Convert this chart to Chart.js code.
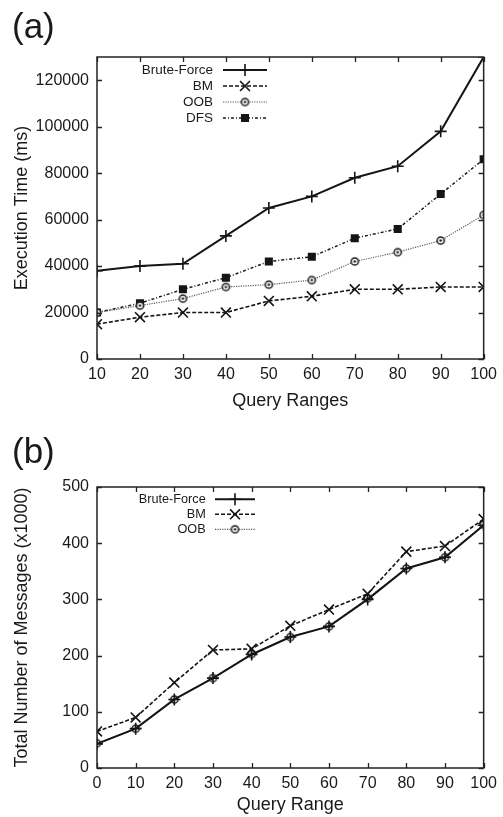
<!DOCTYPE html>
<html><head><meta charset="utf-8">
<script src="https://cdn.jsdelivr.net/npm/chart.js@4.4.1/dist/chart.umd.min.js"></script>
<style>
html,body{margin:0;padding:0;background:#fff;}
body{width:503px;height:817px;position:relative;overflow:hidden;font-family:"Liberation Sans",Arial,sans-serif;}
.panel{position:absolute;left:0;font-size:35px;line-height:1;color:#1a1a1a;font-family:"Liberation Sans",Arial,sans-serif;}
#wrapA{position:absolute;left:0;top:0;width:503px;height:420px;}
#wrapB{position:absolute;left:0;top:400px;width:503px;height:417px;}
</style></head><body>
<div id="wrapA"><canvas id="chartA"></canvas></div>
<div id="wrapB"><canvas id="chartB"></canvas></div>
<div class="panel" style="left:12px;top:8px">(a)</div>
<div class="panel" style="left:12px;top:433px">(b)</div>
<script>
// ---- Data: chart (a) ----
const rangesA = [10, 20, 30, 40, 50, 60, 70, 80, 90, 100];
const bruteA = [38000, 40000, 41000, 53000, 65000, 70000, 78000, 83000, 98000, 130000];
const bmA    = [15000, 18000, 20000, 20000, 25000, 27000, 30000, 30000, 31000, 31000];
const oobA   = [20000, 23000, 26000, 31000, 32000, 34000, 42000, 46000, 51000, 62000];
const dfsA   = [20000, 24000, 30000, 35000, 42000, 44000, 52000, 56000, 71000, 86000];
const xTicksA = [10, 20, 30, 40, 50, 60, 70, 80, 90, 100];
const yTicksA = [0, 20000, 40000, 60000, 80000, 100000, 120000];

// ---- Data: chart (b) ----
const rangesB = [0, 10, 20, 30, 40, 50, 60, 70, 80, 90, 100];
const bruteB = [43, 70, 122, 160, 202, 233, 252, 300, 355, 375, 432];
const bmB    = [65, 90, 152, 210, 212, 253, 282, 310, 385, 395, 443];
const oobB   = [44, 70, 122, 160, 203, 233, 252, 302, 355, 375, 433];
const xTicksB = [0, 10, 20, 30, 40, 50, 60, 70, 80, 90, 100];
const yTicksB = [0, 100, 200, 300, 400, 500];

const TXT = '#1a1a1a';
const FONT = '"Liberation Sans", Arial, sans-serif';

function ringMarker(r, color, lw){
  const s = Math.ceil(2*r + lw + 2);
  const c = document.createElement('canvas'); c.width = s; c.height = s;
  const g = c.getContext('2d');
  g.strokeStyle = color; g.lineWidth = lw; g.fillStyle = '#fff';
  g.beginPath(); g.arc(s/2, s/2, r, 0, 2*Math.PI); g.fill(); g.stroke();
  g.beginPath(); g.arc(s/2, s/2, r*0.35, 0, 2*Math.PI); g.fillStyle = color; g.fill();
  return c;
}

const framePlugin = {
  id: 'frame',
  afterDatasetsDraw(chart){
    const {ctx, chartArea: a, scales: {x, y}} = chart;
    ctx.save();
    ctx.strokeStyle = '#222'; ctx.lineWidth = 1.3; ctx.setLineDash([]);
    const L = 5;
    ctx.beginPath();
    x.ticks.forEach(t => {
      const px = Math.round(x.getPixelForValue(t.value)) + 0.5;
      ctx.moveTo(px, a.bottom); ctx.lineTo(px, a.bottom - L);
      ctx.moveTo(px, a.top); ctx.lineTo(px, a.top + L);
    });
    y.ticks.forEach(t => {
      const py = Math.round(y.getPixelForValue(t.value)) + 0.5;
      ctx.moveTo(a.left, py); ctx.lineTo(a.left + L, py);
      ctx.moveTo(a.right, py); ctx.lineTo(a.right - L, py);
    });
    ctx.stroke();
    ctx.lineWidth = 1.5;
    ctx.strokeRect(a.left, a.top, a.right - a.left, a.bottom - a.top);
    ctx.restore();
  }
};

const legendPlugin = {
  id: 'inlegend',
  afterDatasetsDraw(chart, args, o){
    const ctx = chart.ctx;
    chart.data.datasets.forEach((ds, i) => {
      const y = o.y0 + i * o.dy;
      ctx.save();
      ctx.font = o.font; ctx.fillStyle = TXT; ctx.textAlign = 'right'; ctx.textBaseline = 'middle';
      ctx.fillText(ds.label, o.textRight, y);
      ctx.strokeStyle = ds.borderColor; ctx.lineWidth = ds.borderWidth; ctx.setLineDash(ds.borderDash || []);
      ctx.beginPath(); ctx.moveTo(o.x1, y); ctx.lineTo(o.x2, y); ctx.stroke();
      ctx.setLineDash([]);
      ctx.strokeStyle = ds.pointBorderColor; ctx.fillStyle = ds.pointBackgroundColor; ctx.lineWidth = ds.pointBorderWidth;
      Chart.helpers.drawPoint(ctx, {pointStyle: ds.pointStyle, radius: ds.pointRadius, rotation: 0, borderWidth: ds.pointBorderWidth}, (o.x1 + o.x2) / 2, y);
      ctx.restore();
    });
  }
};

function pts(xs, ys){ return xs.map((v, i) => ({x: v, y: ys[i]})); }

function series(label, data, kind){
  const base = {label, data, fill: false, tension: 0, borderCapStyle: 'butt'};
  if (kind === 'brute') return Object.assign(base, {borderColor: '#151515', borderWidth: 2, borderDash: [],
    pointStyle: 'cross', pointRadius: 6, pointBorderWidth: 1.6, pointBorderColor: '#151515', pointBackgroundColor: '#151515'});
  if (kind === 'bm') return Object.assign(base, {borderColor: '#151515', borderWidth: 1.6, borderDash: [4, 2],
    pointStyle: 'crossRot', pointRadius: 7, pointBorderWidth: 1.6, pointBorderColor: '#151515', pointBackgroundColor: '#151515'});
  if (kind === 'oob') return Object.assign(base, {borderColor: '#5a5a5a', borderWidth: 1.2, borderDash: [1.2, 1.2],
    pointStyle: ringMarker(3.6, '#1a1a1a', 1.5), pointRadius: 4, pointBorderWidth: 1, pointBorderColor: '#1a1a1a', pointBackgroundColor: '#fff'});
  return Object.assign(base, {borderColor: '#1a1a1a', borderWidth: 1.5, borderDash: [3, 2, 1, 2],
    pointStyle: 'rect', pointRadius: 5.7, pointBorderWidth: 0, pointBorderColor: '#151515', pointBackgroundColor: '#151515'});
}

function makeOptions(cfg){
  return {
    responsive: true, maintainAspectRatio: false, animation: false,
    layout: {padding: cfg.padding},
    plugins: {legend: {display: false}, tooltip: {enabled: false}, inlegend: cfg.legend},
    scales: {
      x: {
        type: 'linear', min: cfg.xmin, max: cfg.xmax,
        grid: {display: false, drawTicks: false}, border: {display: false},
        afterBuildTicks: s => { s.ticks = cfg.xTicks.map(v => ({value: v})); },
        afterFit: s => { s.height = cfg.xh; },
        ticks: {autoSkip: false, maxRotation: 0, padding: 6, color: TXT, font: {family: FONT, size: 16}, callback: v => String(v)},
        title: {display: true, text: cfg.xTitle, color: TXT, font: {family: FONT, size: 18, lineHeight: 1.2}, padding: {top: 0, bottom: cfg.xtp}}
      },
      y: {
        type: 'linear', min: cfg.ymin, max: cfg.ymax,
        grid: {display: false, drawTicks: false}, border: {display: false},
        afterBuildTicks: s => { s.ticks = cfg.yTicks.map(v => ({value: v})); },
        afterFit: s => { s.width = 97; },
        ticks: {autoSkip: false, padding: 8, color: TXT, font: {family: FONT, size: 16}, callback: v => String(v)},
        title: {display: true, text: cfg.yTitle, color: TXT, font: {family: FONT, size: 18, lineHeight: 1.2}, padding: {top: 11.7, bottom: 0}}
      }
    }
  };
}

new Chart(document.getElementById('chartA'), {
  type: 'line',
  data: {datasets: [
    series('Brute-Force', pts(rangesA, bruteA), 'brute'),
    series('BM', pts(rangesA, bmA), 'bm'),
    series('OOB', pts(rangesA, oobA), 'oob'),
    series('DFS', pts(rangesA, dfsA), 'dfs')
  ]},
  options: makeOptions({
    padding: {top: 57, left: 0, right: 16, bottom: 8}, xh: 53, xtp: 0,
    xmin: 10, xmax: 100, ymin: 0, ymax: 130000, xTicks: xTicksA, yTicks: yTicksA,
    xTitle: 'Query Ranges', yTitle: 'Execution Time (ms)',
    legend: {textRight: 213, x1: 223, x2: 267, y0: 70, dy: 16, font: '13.5px ' + FONT}
  }),
  plugins: [framePlugin, legendPlugin]
});

new Chart(document.getElementById('chartB'), {
  type: 'line',
  data: {datasets: [
    series('Brute-Force', pts(rangesB, bruteB), 'brute'),
    series('BM', pts(rangesB, bmB), 'bm'),
    series('OOB', pts(rangesB, oobB), 'oob')
  ]},
  options: makeOptions({
    padding: {top: 87, left: 0, right: 16, bottom: 0}, xh: 49, xtp: 1.2,
    xmin: 0, xmax: 100, ymin: 0, ymax: 500, xTicks: xTicksB, yTicks: yTicksB,
    xTitle: 'Query Range', yTitle: 'Total Number of Messages (x1000)',
    legend: {textRight: 205.7, x1: 215, x2: 255, y0: 99.3, dy: 15, font: '12.7px ' + FONT}
  }),
  plugins: [framePlugin, legendPlugin]
});
</script>
</body></html>
